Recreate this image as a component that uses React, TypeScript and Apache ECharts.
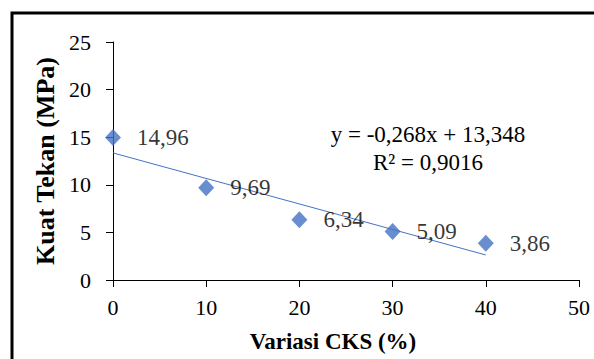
import React, { useEffect, useRef } from "react";
import * as echarts from "echarts";

const xValues = [0, 10, 20, 30, 40];
const yValues = [14.96, 9.69, 6.34, 5.09, 3.86];
const trendX = [0, 40];
const trendY = [13.348, 2.628];
const equationLines = ["y = -0,268x + 13,348", "R² = 0,9016"];
const xTicks = [0, 10, 20, 30, 40, 50];
const yTicks = [0, 5, 10, 15, 20, 25];

const BLUE = "#4472C4";
const FONT = "Liberation Serif";

export default function App() {
  const ref = useRef<HTMLDivElement>(null);
  useEffect(() => {
    if (!ref.current) return;
    const chart = echarts.init(ref.current, null, { renderer: "svg" });
    const fmt = (v: number) => String(v).replace(".", ",");
    chart.setOption({
      animation: false,
      backgroundColor: "#fff",
      textStyle: { fontFamily: FONT },
      grid: { left: 113, right: 15, top: 42, bottom: 79 },
      xAxis: {
        type: "value",
        min: xTicks[0],
        max: xTicks[xTicks.length - 1],
        interval: 10,
        name: "Variasi CKS (%)",
        nameLocation: "middle",
        nameGap: 50,
        nameTextStyle: {
          fontFamily: FONT,
          fontSize: 23,
          fontWeight: "bold",
          color: "#000",
          padding: [0, 26, 0, 0],
        },
        axisLine: { show: true, onZero: false, lineStyle: { color: "#000", width: 1 } },
        axisTick: { show: true, length: 7, lineStyle: { color: "#000" } },
        axisLabel: { fontFamily: FONT, fontSize: 22, color: "#000", margin: 16 },
        splitLine: { show: false },
      },
      yAxis: {
        type: "value",
        min: yTicks[0],
        max: yTicks[yTicks.length - 1],
        interval: 5,
        name: "Kuat Tekan (MPa)",
        nameLocation: "middle",
        nameGap: 54,
        nameRotate: 90,
        nameTextStyle: { fontFamily: FONT, fontSize: 26, fontWeight: "bold", color: "#000" },
        axisLine: { show: true, onZero: false, lineStyle: { color: "#000", width: 1 } },
        axisTick: { show: true, length: 7, lineStyle: { color: "#000" } },
        axisLabel: { fontFamily: FONT, fontSize: 22, color: "#000", margin: 22 },
        splitLine: { show: false },
      },
      series: [
        {
          type: "line",
          data: trendX.map((x, i) => [x, trendY[i]]),
          symbol: "none",
          lineStyle: { color: BLUE, width: 1 },
          silent: true,
          z: 1,
        },
        {
          type: "scatter",
          data: xValues.map((x, i) => [x, yValues[i]]),
          symbol: "diamond",
          symbolSize: [16, 17],
          itemStyle: { color: BLUE },
          label: {
            show: true,
            position: "right",
            distance: 16,
            fontFamily: FONT,
            fontSize: 23,
            color: "#000",
            formatter: (p: any) => fmt(p.value[1]),
          },
          z: 2,
        },
      ],
      graphic: [
        {
          type: "text",
          x: 428,
          y: 134,
          style: {
            text: equationLines[0],
            font: `23px "${FONT}"`,
            fill: "#000",
            textAlign: "center",
            textVerticalAlign: "middle",
          },
        },
        {
          type: "text",
          x: 428,
          y: 162,
          style: {
            text: equationLines[1],
            font: `23px "${FONT}"`,
            fill: "#000",
            textAlign: "center",
            textVerticalAlign: "middle",
          },
        },
        {
          type: "rect",
          shape: { x: 12, y: 13, width: 800, height: 800 },
          style: { fill: "none", stroke: "#000", lineWidth: 3 },
          silent: true,
        },
      ],
    });
    return () => chart.dispose();
  }, []);
  return (
    <div
      ref={ref}
      style={{ position: "fixed", left: 0, top: 0, width: 594, height: 359 }}
    />
  );
}
